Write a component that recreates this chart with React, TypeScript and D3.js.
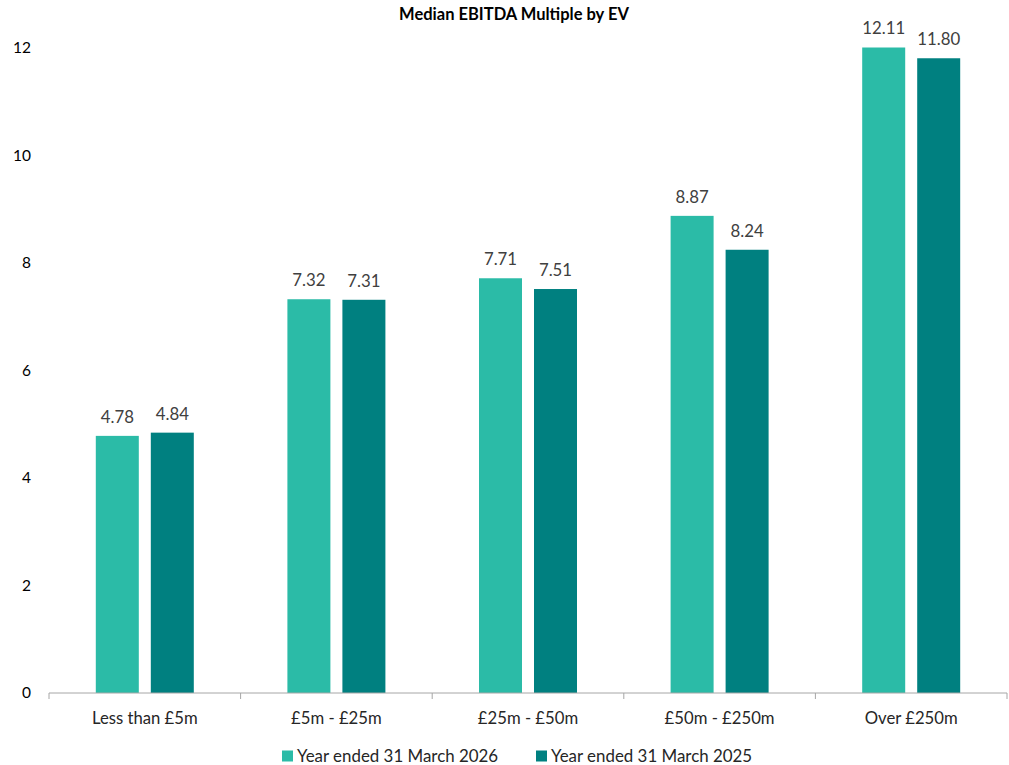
import React from "react";
import * as d3 from "d3";

const categories = ["Less than £5m", "£5m - £25m", "£25m - £50m", "£50m - £250m", "Over £250m"];
const seriesNames = ["Year ended 31 March 2026", "Year ended 31 March 2025"];
const values2026 = [4.78, 7.32, 7.71, 8.87, 12.11];
const values2025 = [4.84, 7.31, 7.51, 8.24, 11.8];
const yTicks = [0, 2, 4, 6, 8, 10, 12];
const colors = ["#2BBBA7", "#008080"];

const W = 1009;
const H = 765;
const left = 49;
const right = 1007;
const top = 47.5;
const bottom = 693;
const FONT = "Lato, 'Open Sans', sans-serif";

export default function App() {
  const x = d3.scaleBand<string>().domain(categories).range([left, right]);
  const y = d3.scaleLinear().domain([0, 12]).range([bottom, top]);
  const barW = 43;
  const gap = 12;
  const series = [values2026, values2025];

  return (
    <svg
      width={W}
      height={H}
      style={{ position: "absolute", left: 0, top: 0, background: "#fff" }}
      fontFamily={FONT}
    >
      <defs>
        <clipPath id="plotClip">
          <rect x={left} y={top} width={right - left} height={bottom - top} />
        </clipPath>
      </defs>
      <text x={514} y={14} dy="0.35em" textAnchor="middle" fontSize={16.5} fontWeight="bold" fill="#000">
        Median EBITDA Multiple by EV
      </text>
      {yTicks.map((t) => (
        <text key={t} x={31} y={y(t)} dy="0.35em" textAnchor="end" fontSize={15.5} fill="#000">
          {t}
        </text>
      ))}
      <g clipPath="url(#plotClip)">
        {categories.map((c, i) =>
          series.map((s, k) => {
            const cx = (x(c) as number) + x.bandwidth() / 2;
            const bx = k === 0 ? cx - gap / 2 - barW : cx + gap / 2;
            return (
              <rect
                key={c + k}
                x={bx}
                y={y(s[i])}
                width={barW}
                height={bottom - y(s[i])}
                fill={colors[k]}
              />
            );
          })
        )}
      </g>
      {categories.map((c, i) =>
        series.map((s, k) => {
          const cx = (x(c) as number) + x.bandwidth() / 2;
          const bx = k === 0 ? cx - gap / 2 - barW : cx + gap / 2;
          const yt = Math.max(y(s[i]), top);
          return (
            <text
              key={"l" + c + k}
              x={bx + barW / 2}
              y={yt - 19}
              dy="0.35em"
              textAnchor="middle"
              fontSize={16.8}
              fill="#404040"
            >
              {s[i].toFixed(2)}
            </text>
          );
        })
      )}
      <line x1={left} x2={right} y1={bottom} y2={bottom} stroke="#a6a6a6" strokeWidth={1} />
      {[...categories.map((c) => x(c) as number), right].map((tx, i) => (
        <line key={"t" + i} x1={tx} x2={tx} y1={bottom} y2={bottom + 6} stroke="#a6a6a6" strokeWidth={1} />
      ))}
      {categories.map((c) => (
        <text
          key={"c" + c}
          x={(x(c) as number) + x.bandwidth() / 2}
          y={718}
          dy="0.35em"
          textAnchor="middle"
          fontSize={16.7}
          fill="#262626"
        >
          {c}
        </text>
      ))}
      {seriesNames.map((n, k) => {
        const lx = k === 0 ? 282 : 536;
        return (
          <g key={n}>
            <rect x={lx} y={750.5} width={11} height={11} fill={colors[k]} />
            <text x={lx + 15} y={756} dy="0.35em" fontSize={16.9} fill="#262626">
              {n}
            </text>
          </g>
        );
      })}
    </svg>
  );
}
